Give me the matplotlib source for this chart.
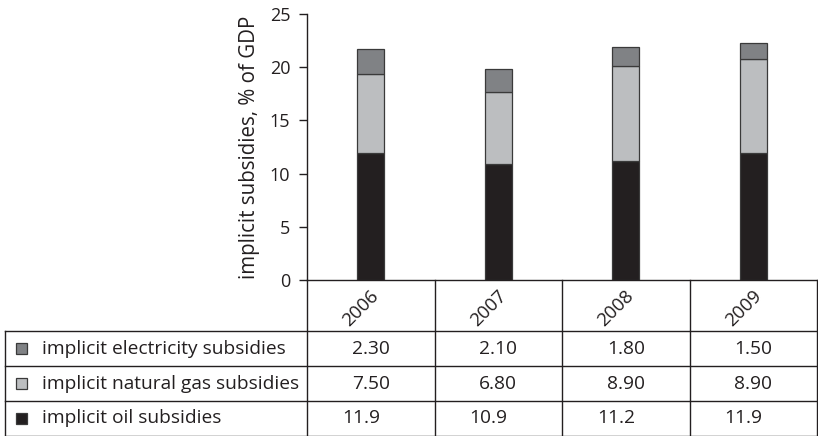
import matplotlib
matplotlib.use("Agg")
import matplotlib.pyplot as plt
from matplotlib.lines import Line2D
from matplotlib.patches import Rectangle

plt.rcParams['font.family'] = ['Open Sans', 'DejaVu Sans']

years = ['2006', '2007', '2008', '2009']
series_names = ['implicit electricity subsidies', 'implicit natural gas subsidies', 'implicit oil subsidies']
electricity = [2.30, 2.10, 1.80, 1.50]
natural_gas = [7.50, 6.80, 8.90, 8.90]
oil = [11.9, 10.9, 11.2, 11.9]
value_labels = [['2.30', '2.10', '1.80', '1.50'],
                ['7.50', '6.80', '8.90', '8.90'],
                ['11.9', '10.9', '11.2', '11.9']]
colors = ['#808285', '#bcbec0', '#231f20']
edge = '#3a3a3a'

W, H = 818, 436
fig = plt.figure(figsize=(W / 100, H / 100), dpi=100)

ax_l, ax_r, ax_b, ax_t = 307, 817, 280, 14
ax = fig.add_axes([ax_l / W, 1 - ax_b / H, (ax_r - ax_l) / W, (ax_b - ax_t) / H])
x = list(range(len(years)))
bw = 0.21
ax.bar(x, oil, bw, color=colors[2], edgecolor=edge, linewidth=0.9)
ax.bar(x, natural_gas, bw, bottom=oil, color=colors[1], edgecolor=edge, linewidth=0.9)
bot2 = [a + b for a, b in zip(oil, natural_gas)]
ax.bar(x, electricity, bw, bottom=bot2, color=colors[0], edgecolor=edge, linewidth=0.9)
ax.set_xlim(-0.5, len(years) - 0.5)
ax.set_ylim(0, 25)
ax.set_yticks([0, 5, 10, 15, 20, 25])
ax.set_xticks([])
for s in ['top', 'right']:
    ax.spines[s].set_visible(False)
for s in ['left', 'bottom']:
    ax.spines[s].set_color('#231f20')
    ax.spines[s].set_linewidth(1.0)
ax.tick_params(axis='y', length=5.5, width=1.0, color='#231f20', labelsize=13, labelcolor='#231f20', pad=6.5)
ax.set_ylabel('implicit subsidies, % of GDP', fontsize=14.8, color='#231f20', labelpad=7)

# table overlay in pixel coordinates
ov = fig.add_axes([0, 0, 1, 1])
ov.set_xlim(0, W)
ov.set_ylim(H, 0)
ov.axis('off')
ov.patch.set_alpha(0)

lc = '#231f20'
lw = 1.0
colw = (ax_r - ax_l) / len(years)
col_edges = [ax_l + i * colw for i in range(len(years) + 1)]
row_edges = [331, 366, 401, 435.5]
left = 5

for xe in col_edges:
    ov.add_line(Line2D([xe, xe], [ax_b, row_edges[-1]], color=lc, lw=lw))
for ye in row_edges:
    ov.add_line(Line2D([left, ax_r], [ye, ye], color=lc, lw=lw))
ov.add_line(Line2D([left, left], [row_edges[0], row_edges[-1]], color=lc, lw=lw))

for i, yr in enumerate(years):
    cx = col_edges[i] + colw / 2
    ov.text(cx - 10, 308, yr, rotation=45, ha='center', va='center', fontsize=13.5, color=lc,
            rotation_mode='anchor')

for r, name in enumerate(series_names):
    cy = (row_edges[r] + row_edges[r + 1]) / 2
    ov.add_patch(Rectangle((16, cy - 5.5), 11, 11, facecolor=colors[r], edgecolor=edge, lw=0.9))
    ov.text(42, cy, name, ha='left', va='center', fontsize=13.8, color=lc)
    for i in range(len(years)):
        cx = col_edges[i] + colw / 2
        off = -10 if r == 2 else 0
        ov.text(cx + off, cy, value_labels[r][i], ha='center', va='center', fontsize=13.8, color=lc)

fig.savefig('out.png', dpi=100, facecolor='white')
